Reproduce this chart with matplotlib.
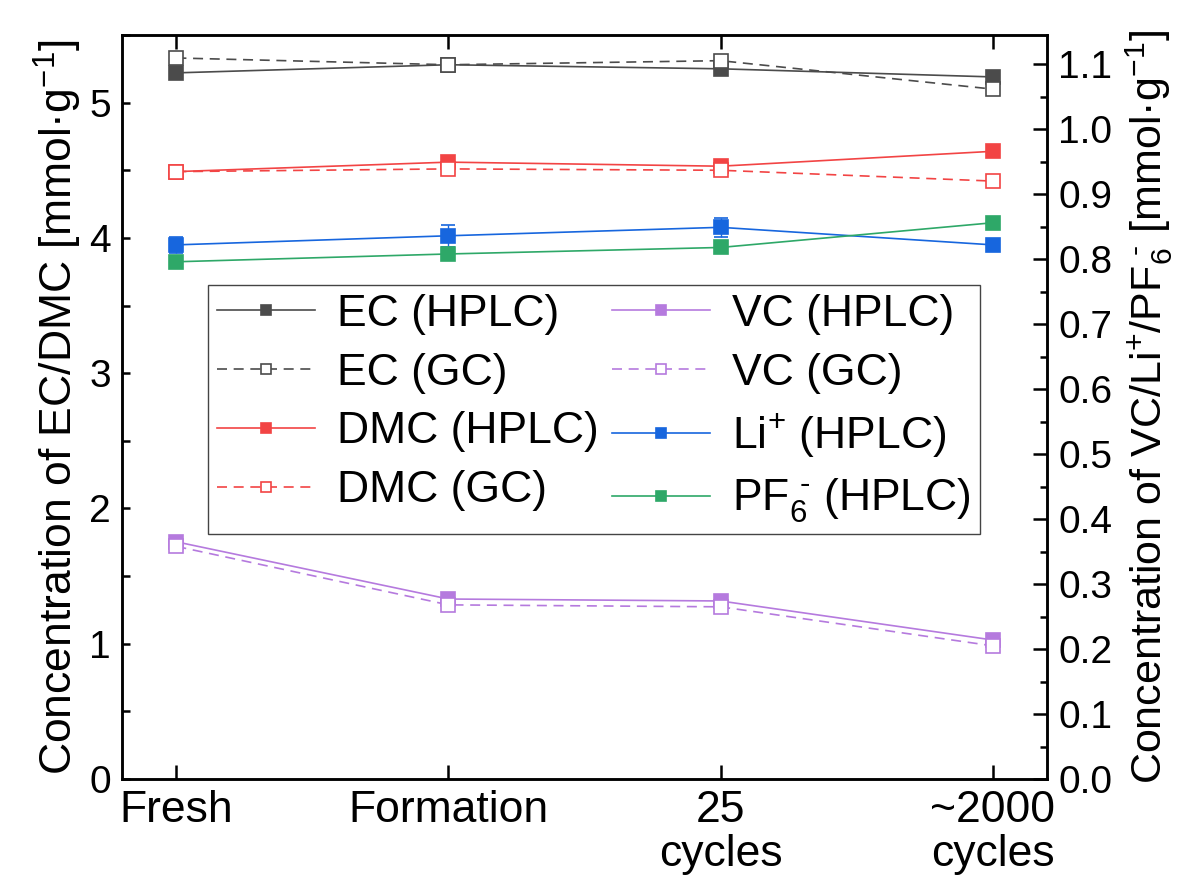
import matplotlib.pyplot as plt
from matplotlib.lines import Line2D
from matplotlib.ticker import MultipleLocator

plt.rcParams['font.family'] = ['Liberation Sans', 'DejaVu Sans']
plt.rcParams['mathtext.fontset'] = 'custom'
plt.rcParams['mathtext.rm'] = 'Liberation Sans'
plt.rcParams['mathtext.default'] = 'regular'

stages = ['Fresh', 'Formation', '25\ncycles', '~2000\ncycles']

# EC / DMC, left axis [mmol/g]
ec_hplc = [5.22, 5.28, 5.25, 5.19]
ec_gc = [5.33, 5.28, 5.31, 5.10]
dmc_hplc = [4.49, 4.56, 4.53, 4.64]
dmc_gc = [4.49, 4.51, 4.50, 4.42]
ec_hplc_err = [0.02, 0.02, 0.02, 0.02]
ec_gc_err = [0.03, 0.03, 0.03, 0.03]
dmc_hplc_err = [0.02, 0.02, 0.02, 0.02]
dmc_gc_err = [0.03, 0.03, 0.03, 0.03]

# VC / Li+ / PF6-, right axis [mmol/g]
vc_hplc = [0.365, 0.277, 0.274, 0.214]
vc_gc = [0.358, 0.268, 0.265, 0.205]
li_hplc = [0.822, 0.836, 0.849, 0.822]
pf6_hplc = [0.796, 0.808, 0.818, 0.856]
vc_hplc_err = [0.004, 0.004, 0.004, 0.004]
vc_gc_err = [0.005, 0.005, 0.005, 0.005]
li_hplc_err = [0.012, 0.017, 0.015, 0.005]
pf6_hplc_err = [0.005, 0.005, 0.005, 0.005]

c_ec = '#4b4b4b'
c_dmc = '#f24444'
c_vc = '#b57ade'
c_li = '#1766de'
c_pf6 = '#2ea868'

x = list(range(len(stages)))

fig = plt.figure(figsize=(11.96, 8.9), dpi=100)
ax1 = fig.add_axes([0.102, 0.1247, 0.7734, 0.836])
ax2 = ax1.twinx()

handles = []


def series(ax, y, err, color, label, hollow=False):
    style = dict(color=color, lw=1.2, ls=(0, (6, 4)) if hollow else '-',
                 marker='s', mec=color, mew=1.2,
                 mfc='white' if hollow else color)
    ax.errorbar(x, y, yerr=err, ms=10.5, ecolor=color, elinewidth=1.0,
                capsize=5, capthick=1.0, zorder=3, **style)
    # legend entry without the error bars
    handles.append(Line2D([], [], ms=7, label=label, **style))


series(ax1, ec_hplc, ec_hplc_err, c_ec, 'EC (HPLC)')
series(ax1, ec_gc, ec_gc_err, c_ec, 'EC (GC)', hollow=True)
series(ax1, dmc_hplc, dmc_hplc_err, c_dmc, 'DMC (HPLC)')
series(ax1, dmc_gc, dmc_gc_err, c_dmc, 'DMC (GC)', hollow=True)
series(ax2, vc_hplc, vc_hplc_err, c_vc, 'VC (HPLC)')
series(ax2, vc_gc, vc_gc_err, c_vc, 'VC (GC)', hollow=True)
series(ax2, li_hplc, li_hplc_err, c_li, 'Li$^{+}$ (HPLC)')
series(ax2, pf6_hplc, pf6_hplc_err, c_pf6, 'PF$_6^{\\ \\text{-}}$ (HPLC)')

ax1.set_xlim(-0.2, 3.2)
ax1.set_ylim(0, 5.5)
ax2.set_ylim(0, 1.145)

ax1.set_xticks(x)
ax1.set_xticklabels(stages, fontsize=32, linespacing=1.08)
ax1.yaxis.set_major_locator(MultipleLocator(1))
ax1.yaxis.set_minor_locator(MultipleLocator(0.5))
ax2.yaxis.set_minor_locator(MultipleLocator(0.05))
ax2.set_yticks([round(0.1 * i, 1) for i in range(12)])
ax2.set_yticklabels(['%.1f' % (0.1 * i) for i in range(12)])

ax1.tick_params(axis='x', which='major', direction='in', top=True,
                length=10, width=1.8, pad=8)
ax1.tick_params(axis='y', which='both', direction='in', length=6,
                width=1.8, labelsize=28, pad=8)
ax2.tick_params(axis='y', which='major', direction='in', length=10,
                width=1.8, labelsize=28, pad=8)
ax2.tick_params(axis='y', which='minor', direction='in', length=5, width=1.8)

for ax in (ax1, ax2):
    for sp in ax.spines.values():
        sp.set_linewidth(1.8)

ax1.set_ylabel('Concentration of EC/DMC [mmol·g$^{-1}$]', fontsize=32,
               labelpad=4)
ax2.set_ylabel('Concentration of VC/Li$^{+}$/PF$_6^{\\ \\text{-}}$ [mmol·g$^{-1}$]',
               fontsize=31, labelpad=8)

leg = ax2.legend(
    handles=handles, ncol=2,
    loc='upper left', bbox_to_anchor=(0.093, 0.664), borderaxespad=0,
    fontsize=32, handlelength=2.2, handletextpad=0.5,
    columnspacing=0.3, labelspacing=0.4, borderpad=0.2,
    fancybox=False, framealpha=1, edgecolor='#444444',
)
leg.get_frame().set_linewidth(1.0)

fig.savefig('out.png', dpi=100)
